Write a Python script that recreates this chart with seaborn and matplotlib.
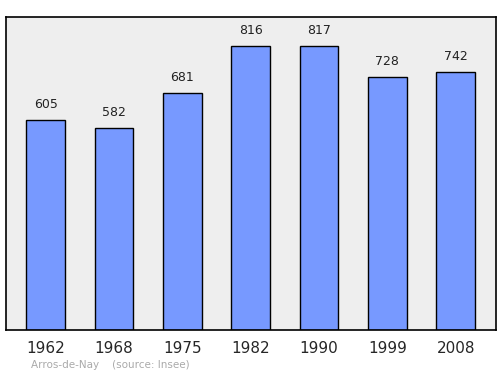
import matplotlib
matplotlib.use("Agg")
import matplotlib.pyplot as plt
import seaborn as sns
import pandas as pd

years = ["1962", "1968", "1975", "1982", "1990", "1999", "2008"]
population = [605, 582, 681, 816, 817, 728, 742]

sns.set_style("white")
plt.rcParams['font.family'] = ['DejaVu Sans']

df = pd.DataFrame({"year": years, "pop": population})

fig = plt.figure(figsize=(5, 3.74), dpi=100)
ax = fig.add_axes([0.012, 0.1176, 0.98, 0.837])
ax.set_facecolor("#eeeeee")
sns.barplot(data=df, x="year", y="pop", color="#7799ff", saturation=1,
            width=0.57, edgecolor="black", linewidth=1, ax=ax)
ax.set_ylim(0, 900)
ax.set_xlim(-0.58, 6.59)
for i, v in enumerate(population):
    ax.annotate(str(v), (i, v), xytext=(0, 6.5), textcoords="offset points",
                ha="center", va="bottom", fontsize=9, color="#222222")
ax.set_yticks([])
ax.set_xlabel("")
ax.set_ylabel("")
ax.tick_params(axis="x", length=0, labelsize=11, pad=8)
for s in ax.spines.values():
    s.set_visible(True)
    s.set_color("black")
    s.set_linewidth(1.2)
fig.text(0.062, 0.016, "Arros-de-Nay    (source: Insee)", fontsize=7.5, color="#aaaaaa")
fig.savefig("out.png", dpi=100)
